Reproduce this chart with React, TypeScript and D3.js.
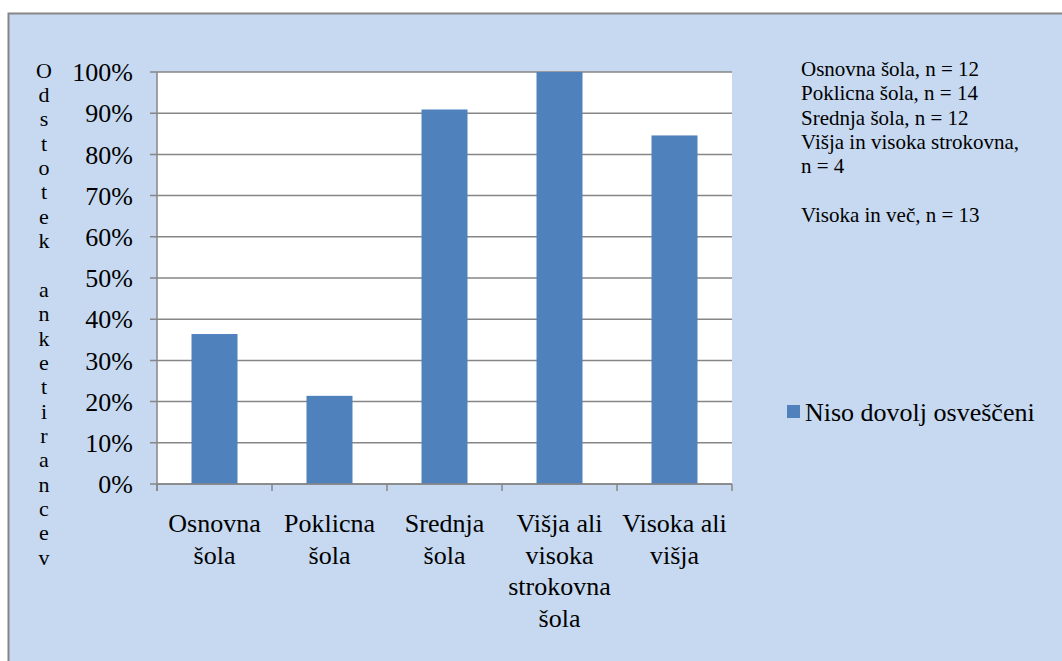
import React from "react";
import * as d3 from "d3";

const categories: string[][] = [
  ["Osnovna", "šola"],
  ["Poklicna", "šola"],
  ["Srednja", "šola"],
  ["Višja ali", "visoka", "strokovna", "šola"],
  ["Visoka ali", "višja"],
];
const values: number[] = [36.4, 21.4, 90.9, 100, 84.6];
const yTicks: number[] = [0, 10, 20, 30, 40, 50, 60, 70, 80, 90, 100];
const yTitle = "Odstotek anketirancev";
const seriesName = "Niso dovolj osveščeni";
const noteLines: string[] = [
  "Osnovna šola, n = 12",
  "Poklicna šola, n = 14",
  "Srednja šola, n = 12",
  "Višja in visoka strokovna,",
  "n = 4",
  "",
  "Visoka in več, n = 13",
];

const W = 1062;
const H = 661;
const FONT = "'Liberation Serif', 'Times New Roman', Tinos, 'DejaVu Serif', serif";
const GRID = "#868686";
const BAR = "#4F81BD";
const BG = "#C6D9F1";
const ts: React.CSSProperties = { fontFamily: FONT };

export default function App() {
  const plot = { left: 157, right: 732, top: 72, bottom: 484 };
  const idx = categories.map((_, i) => String(i));
  const x = d3.scaleBand<string>().domain(idx).range([plot.left, plot.right]).padding(0);
  const y = d3.scaleLinear().domain([0, 100]).range([plot.bottom, plot.top]);
  const bw = x.bandwidth() / 2.5;

  return (
    <svg
      width={W}
      height={H}
      style={{ position: "absolute", left: 0, top: 0, display: "block", fontFamily: FONT }}
    >
      <rect x={0} y={0} width={W} height={H} fill="#ffffff" />
      <rect x={8.5} y={13.5} width={W + 20} height={H + 20} fill={BG} stroke={GRID} strokeWidth={2} />
      {/* plot area */}
      <rect x={plot.left} y={plot.top} width={plot.right - plot.left} height={plot.bottom - plot.top} fill="#ffffff" />
      {yTicks.map((t) => (
        <line key={"g" + t} x1={plot.left - 7} x2={plot.right} y1={y(t)} y2={y(t)} stroke={GRID} strokeWidth={1.5} />
      ))}
      {yTicks.map((t) => (
        <text key={"t" + t} x={133} y={y(t)} dy="0.35em" textAnchor="end" fontSize={26} fill="#000" style={ts}>
          {t + "%"}
        </text>
      ))}
      {/* bars */}
      {values.map((v, i) => {
        const cx = (x(String(i)) as number) + x.bandwidth() / 2;
        return (
          <rect key={"b" + i} x={cx - bw / 2} y={y(v)} width={bw} height={y(0) - y(v)} fill={BAR} />
        );
      })}
      {/* axes */}
      <line x1={plot.left} x2={plot.left} y1={plot.top} y2={plot.bottom + 7} stroke={GRID} strokeWidth={1.5} />
      <line x1={plot.left} x2={plot.right} y1={plot.bottom} y2={plot.bottom} stroke={GRID} strokeWidth={1.5} />
      {idx.concat(["end"]).map((k, i) => {
        const xx = i < idx.length ? (x(k) as number) : plot.right;
        return <line key={"xt" + i} x1={xx} x2={xx} y1={plot.bottom} y2={plot.bottom + 7} stroke={GRID} strokeWidth={1.5} />;
      })}
      {categories.map((lines, i) => {
        const cx = (x(String(i)) as number) + x.bandwidth() / 2;
        return (
          <text key={"c" + i} x={cx} y={532} textAnchor="middle" fontSize={26} fill="#000" style={ts}>
            {lines.map((l, j) => (
              <tspan key={j} x={cx} y={532 + j * 31.5}>
                {l}
              </tspan>
            ))}
          </text>
        );
      })}
      {/* vertical title */}
      {yTitle.split("").map((ch, i) => (
        <text key={"yt" + i} x={44} y={70 + i * 24.35} dy="0.35em" textAnchor="middle" fontSize={22} fill="#000" style={ts}>
          {ch}
        </text>
      ))}
      {/* notes */}
      {noteLines.map((l, i) => (
        <text key={"n" + i} x={801} y={76 + i * 24.3} fontSize={21} fill="#000" style={ts}>
          {l}
        </text>
      ))}
      {/* legend */}
      <rect x={787} y={405} width={13} height={13} fill={BAR} />
      <text x={805} y={421} fontSize={26} fill="#000" style={ts}>
        {seriesName}
      </text>
    </svg>
  );
}
